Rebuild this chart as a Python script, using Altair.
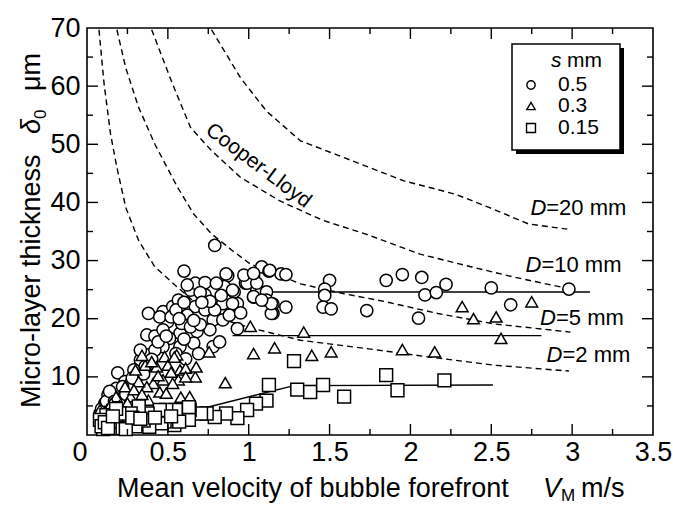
import altair as alt
import pandas as pd

# ---------------- data ----------------
circle_x = [0.79, 0.60, 1.08, 1.125, 1.20, 1.23, 1.03, 0.87, 1.50, 1.85, 1.95, 2.07, 2.22, 2.50, 2.98,
            1.47, 1.47, 1.46, 1.51, 1.73, 2.05, 2.09, 2.16, 2.62, 1.23, 1.15, 1.15, 1.07, 1.03, 1.05,
            1.11, 0.93, 0.93, 0.91, 0.98, 0.85,
            0.38, 0.37, 0.42, 0.19, 0.13, 0.47, 0.50, 0.53, 0.565, 0.64, 0.67, 0.73, 0.80, 0.86,
            0.99, 1.05, 0.73, 0.67, 0.62, 0.73, 0.78, 0.84, 0.90, 0.90, 0.84, 0.76, 0.68, 0.575,
            0.51, 0.47, 0.575, 0.66, 0.78, 0.82, 0.47, 0.45, 0.585, 0.64, 1.03, 1.11, 1.14, 1.14,
            1.08, 0.97, 1.03, 1.13, 0.79, 0.33, 0.29, 0.235, 0.38, 0.42, 0.33, 0.18, 0.16, 0.11, 0.08,
            0.26, 0.31, 0.36, 0.40, 0.44, 0.52, 0.55, 0.60, 0.62, 0.70, 0.76, 0.83, 0.88, 0.95,
            0.70, 0.55, 0.60, 0.61, 0.69, 0.09, 0.12, 0.14, 0.22, 0.24,
            0.10, 0.15, 0.17, 0.28, 0.35, 0.49, 0.57, 0.66, 0.71]
circle_y = [32.6, 28.2, 28.9, 28.2, 27.7, 27.6, 27.4, 27.4, 26.6, 26.6, 27.6, 27.1, 25.9, 25.3, 25.1,
            25.1, 24.0, 22.0, 21.7, 21.4, 20.1, 24.1, 24.5, 22.4, 22.0, 20.9, 22.5, 23.7, 23.7, 24.9,
            24.6, 18.3, 22.6, 24.6, 26.1, 25.5,
            20.9, 17.2, 17.0, 10.7, 6.9, 21.2, 19.5, 22.1, 23.2, 24.9, 26.1, 26.2, 26.1, 27.7,
            26.1, 26.1, 24.1, 22.1, 20.6, 21.5, 19.8, 22.6, 24.9, 22.6, 19.8, 18.1, 17.8, 17.5,
            16.6, 15.2, 15.2, 15.8, 15.2, 16.0, 18.1, 20.3, 19.2, 18.6, 23.8, 23.2, 20.9, 22.6,
            23.2, 27.5, 27.8, 28.3, 21.5, 12.9, 11.2, 9.2, 13.8, 14.6, 14.6, 8.0, 6.6, 5.4, 3.7,
            8.6, 10.0, 11.8, 13.0, 16.0, 20.3, 21.5, 22.8, 25.8, 24.5, 23.0, 24.0, 20.6, 21.0,
            19.0, 14.0, 16.5, 13.1, 14.0, 4.5, 5.8, 7.5, 8.3, 7.0,
            3.0, 4.5, 5.8, 9.8, 10.5, 17.0, 20.0, 19.7, 22.8]

tri_x = [1.01, 1.34, 1.03, 1.16, 1.39, 1.51, 1.95, 2.15, 2.32, 2.39, 2.53, 2.75, 2.56, 0.855, 0.635,
         0.555, 0.48, 0.50, 0.575, 0.61, 0.67, 0.565, 0.47, 0.41, 0.37, 0.32, 0.30, 0.36, 0.43,
         0.53, 0.235, 0.18, 0.15, 0.27, 0.45, 0.08, 0.49, 0.34, 0.40, 0.54, 0.755, 0.675, 0.61,
         0.20, 0.12, 0.25, 0.38, 0.58,
         0.09, 0.11, 0.14, 0.16, 0.22, 0.29, 0.34, 0.44, 0.52]
tri_y = [18.7, 17.7, 14.0, 15.0, 13.7, 14.3, 14.7, 14.3, 22.1, 20.0, 20.3, 22.9, 16.6, 9.0, 6.6,
         13.8, 13.5, 12.0, 11.2, 11.5, 10.0, 9.5, 9.5, 8.9, 8.3, 9.2, 11.2, 12.0, 11.7,
         8.9, 8.3, 6.6, 5.4, 6.6, 7.4, 4.3, 7.2, 13.7, 12.6, 13.4, 14.3, 11.7, 10.0,
         5.0, 3.5, 5.5, 6.0, 6.5,
         2.5, 4.0, 3.5, 4.8, 4.2, 7.8, 7.0, 10.2, 10.8]

sq_x = [1.28, 1.125, 1.30, 1.38, 1.46, 1.59, 1.85, 1.92, 2.21, 1.11, 1.045, 0.99, 0.93, 0.86, 0.79,
        0.74, 0.705, 0.635, 0.63, 0.55, 0.54, 0.49, 0.48, 0.46, 0.45, 0.375, 0.32, 0.27, 0.26,
        0.20, 0.15, 0.12, 0.08, 0.385, 0.57, 0.63, 0.35, 0.30, 0.22, 0.18, 0.10, 0.42, 0.52,
        0.09, 0.11, 0.13, 0.16, 0.24, 0.28, 0.33]
sq_y = [12.7, 8.6, 7.8, 7.4, 8.6, 6.6, 10.3, 7.7, 9.4, 5.9, 5.4, 4.3, 2.9, 3.7, 3.1,
        3.7, 3.7, 4.3, 2.6, 4.3, 1.7, 4.3, 2.3, 2.0, 4.3, 3.7, 4.9, 3.7, 2.0,
        3.7, 2.3, 3.4, 2.6, 1.4, 2.3, 4.8, 2.5, 1.5, 1.2, 4.5, 1.0, 3.0, 3.2,
        1.5, 2.2, 1.2, 3.2, 1.0, 3.0, 2.8]

# Cooper-Lloyd curves (dashed)
d2_x = [0.074, 0.106, 0.146, 0.185, 0.24, 0.32, 0.42, 0.56, 0.70, 0.85, 1.03, 1.32, 1.72, 2.12, 2.52, 2.98]
d2_y = [69.7, 60.3, 51.7, 46.0, 39.1, 33.4, 28.9, 25.4, 22.0, 19.8, 18.3, 16.3, 14.9, 13.4, 12.0, 11.0]
d5_x = [0.185, 0.24, 0.32, 0.42, 0.56, 0.66, 0.77, 0.90, 1.01, 1.32, 1.59, 1.85, 2.17, 2.52, 2.99]
d5_y = [69.7, 63.1, 56.3, 50.0, 42.6, 38.0, 34.6, 31.7, 29.4, 26.0, 24.3, 22.9, 20.9, 19.1, 17.7]
d10_x = [0.40, 0.53, 0.64, 0.77, 0.95, 1.19, 1.46, 1.72, 2.06, 2.38, 2.65, 2.99]
d10_y = [69.7, 60.3, 52.9, 48.9, 44.3, 40.3, 36.9, 34.6, 31.1, 28.9, 27.1, 25.1]
d20_x = [0.77, 0.95, 1.11, 1.32, 1.59, 1.96, 2.28, 2.49, 2.73, 2.97]
d20_y = [69.7, 61.4, 55.7, 50.6, 47.7, 43.7, 41.4, 39.1, 36.3, 35.4]

# fitted solid lines
fit05_x = [1.13, 3.11]
fit05_y = [24.6, 24.6]
fit03_x = [0.90, 2.81]
fit03_y = [17.1, 17.1]
fit015_x = [0.72, 1.28, 2.51]
fit015_y = [4.6, 8.5, 8.6]

x_major = [0, 0.5, 1.0, 1.5, 2.0, 2.5, 3.0, 3.5]
x_minor = [0.25, 0.75, 1.25, 1.75, 2.25, 2.75, 3.25]
y_major = [10, 20, 30, 40, 50, 60, 70]
y_minor = [5, 15, 25, 35, 45, 55, 65]

legend_labels = ["0.5", "0.3", "0.15"]

d_labels = ["=20 mm", "=10 mm", "=5 mm", "=2 mm"]
d_label_x = [2.84, 2.81, 2.90, 2.94]
d_label_y = [39.0, 29.2, 20.1, 13.8]

# ---------------- chart ----------------
W, H = 566, 407
FONT = "Liberation Sans"
xs = alt.Scale(domain=[0, 3.5], nice=False, zero=False)
ys = alt.Scale(domain=[0, 70], nice=False, zero=False)

pts_c = pd.DataFrame({"x": circle_x, "y": circle_y})
pts_t = pd.DataFrame({"x": tri_x, "y": tri_y})
pts_s = pd.DataFrame({"x": sq_x, "y": sq_y})

curves = pd.concat([
    pd.DataFrame({"x": d2_x, "y": d2_y, "D": "2"}),
    pd.DataFrame({"x": d5_x, "y": d5_y, "D": "5"}),
    pd.DataFrame({"x": d10_x, "y": d10_y, "D": "10"}),
    pd.DataFrame({"x": d20_x, "y": d20_y, "D": "20"}),
])
fits = pd.concat([
    pd.DataFrame({"x": fit05_x, "y": fit05_y, "s": "0.5"}),
    pd.DataFrame({"x": fit03_x, "y": fit03_y, "s": "0.3"}),
    pd.DataFrame({"x": fit015_x, "y": fit015_y, "s": "0.15"}),
])

xaxis = alt.Axis(values=x_major, labelExpr="'' + datum.value", ticks=False, domain=False, grid=False,
                 labelFontSize=27, labelFont=FONT, labelColor="black", labelPadding=4, title=None,
                 labelAlign={"condition": {"test": "datum.value == 0", "value": "right"}, "value": "center"})
yaxis = alt.Axis(values=y_major, labelExpr="'' + datum.value", ticks=False, domain=False, grid=False,
                 labelFontSize=27, labelFont=FONT, labelColor="black", labelPadding=7, title=None)


def X(f="x"):
    return alt.X(f"{f}:Q", scale=xs, axis=xaxis)


def Y(f="y"):
    return alt.Y(f"{f}:Q", scale=ys, axis=yaxis)


curve_layer = alt.Chart(curves).mark_line(color="black", strokeDash=[6, 4], strokeWidth=1.4).encode(
    x=X(), y=Y(), detail="D:N")
fit_layer = alt.Chart(fits).mark_line(color="black", strokeWidth=1.4).encode(x=X(), y=Y(), detail="s:N")

pt_style = dict(filled=True, fill="white", stroke="black", strokeWidth=1.5, opacity=1)
c_layer = alt.Chart(pts_c).mark_point(shape="circle", size=150, **pt_style).encode(x=X(), y=Y())
t_layer = alt.Chart(pts_t).mark_point(shape="triangle-up", size=140, **pt_style).encode(x=X(), y=Y())
s_layer = alt.Chart(pts_s).mark_point(shape="square", size=165, **pt_style).encode(x=X(), y=Y())

# inward ticks on all four sides
xt_major = pd.DataFrame({"v": x_major[1:-1]})
xt_minor = pd.DataFrame({"v": x_minor})
yt_major = pd.DataFrame({"v": y_major[:-1]})
yt_minor = pd.DataFrame({"v": y_minor})
tick_layers = []
for df, ln in [(xt_major, 11), (xt_minor, 6)]:
    tick_layers.append(alt.Chart(df).mark_rule(color="black", strokeWidth=1.4).encode(
        x=X("v"), y=alt.value(H), y2=alt.value(H - ln)))
    tick_layers.append(alt.Chart(df).mark_rule(color="black", strokeWidth=1.4).encode(
        x=X("v"), y=alt.value(0), y2=alt.value(ln)))
for df, ln in [(yt_major, 11), (yt_minor, 6)]:
    tick_layers.append(alt.Chart(df).mark_rule(color="black", strokeWidth=1.4).encode(
        y=Y("v"), x=alt.value(0), x2=alt.value(ln)))
    tick_layers.append(alt.Chart(df).mark_rule(color="black", strokeWidth=1.4).encode(
        y=Y("v"), x=alt.value(W), x2=alt.value(W - ln)))

# curve labels
cl = alt.Chart(pd.DataFrame({"x": [1.06], "y": [46.3], "t": ["Cooper-Lloyd"]})).mark_text(
    angle=37, fontSize=21, font=FONT, color="black").encode(x=X(), y=Y(), text="t:N")
dlab_df = pd.DataFrame({"x": d_label_x, "y": d_label_y, "t": d_labels, "d": ["D"] * 4})
dl1 = alt.Chart(dlab_df).mark_text(align="left", baseline="middle", fontSize=22, font=FONT,
                                   color="black").encode(x=X(), y=Y(), text="t:N")
dl2 = alt.Chart(dlab_df).mark_text(align="right", baseline="middle", fontSize=22, font=FONT,
                                   fontStyle="italic", color="black").encode(x=X(), y=Y(), text="d:N")

# legend (box, shadow, title, keys)
one = pd.DataFrame({"a": [0]})


def txt(t, x, y, size, style="normal", align="left", baseline="alphabetic", angle=0):
    return alt.Chart(one).mark_text(text=t, align=align, baseline=baseline, fontSize=size, font=FONT,
                                    fontStyle=style, color="black", angle=angle).encode(
        x=alt.value(x), y=alt.value(y))


shadow = alt.Chart(one).mark_rect(color="black").encode(
    x=alt.value(429), x2=alt.value(537), y=alt.value(20), y2=alt.value(126))
box = alt.Chart(one).mark_rect(fill="white", stroke="black", strokeWidth=1.5).encode(
    x=alt.value(425), x2=alt.value(533), y=alt.value(16), y2=alt.value(122))
leg_title = [txt("s", 464, 39, 21, "italic"), txt("mm", 480, 39, 21)]
leg_keys = []
for lab, shp, yy, sz in zip(legend_labels, ["circle", "triangle-up", "square"], [57, 78, 100], [70, 70, 80]):
    leg_keys.append(alt.Chart(one).mark_point(shape=shp, size=sz, filled=True, fill="white",
                                              stroke="black", strokeWidth=1.4, opacity=1).encode(
        x=alt.value(444), y=alt.value(yy)))
    leg_keys.append(txt(lab, 471, yy, 21, baseline="middle"))

# axis titles with subscripts
xt = [txt("Mean velocity of bubble forefront", 30, 469, 27),
      txt("V", 456, 469, 27, "italic"),
      txt("M", 474, 473, 17),
      txt("m/s", 494, 469, 27)]
yt = [txt("Micro-layer thickness", -47, 380, 27, angle=270),
      txt("δ", -47, 106, 27, "italic", angle=270),
      txt("0", -41, 91, 17, angle=270),
      txt("μm", -47, 63, 27, angle=270)]

chart = alt.layer(
    curve_layer, fit_layer, c_layer, t_layer, s_layer, *tick_layers, cl, dl1, dl2,
    shadow, box, *leg_title, *leg_keys, *xt, *yt
).properties(
    width=W, height=H,
    autosize=alt.AutoSizeParams(type="none"),
    padding={"left": 87, "top": 28, "right": 20, "bottom": 70},
    background="white",
).configure_view(stroke="black", strokeWidth=1.6)

chart.save("out.html", embed_options={"renderer": "svg", "actions": False})
